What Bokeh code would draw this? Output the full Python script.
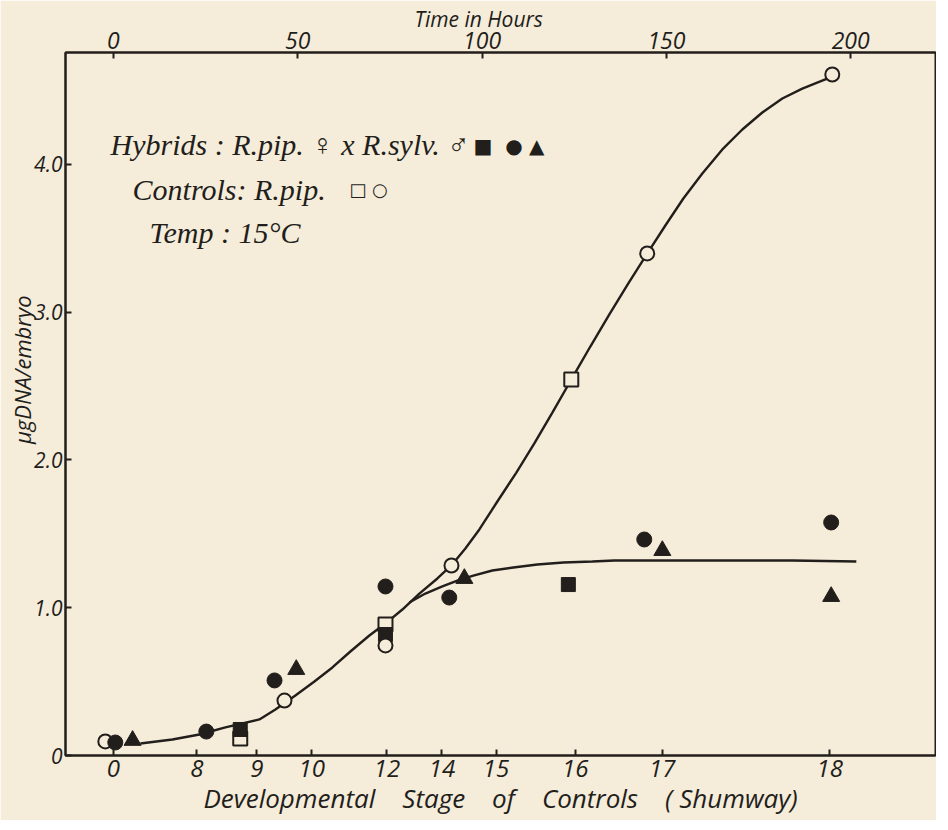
from bokeh.plotting import figure
from bokeh.models import Range1d, LinearAxis, FixedTicker, Label
from bokeh.embed import file_html
from bokeh.resources import INLINE

INK = "#221E1B"
BG = "#F6ECDA"
SANS = "Open Sans"
SERIF = "Liberation Serif"
NB = "\u00a0"

# ---- axes data -------------------------------------------------------
hour_ticks = [0, 50, 100, 150, 200]
stage_hours = [0, 22.6, 38.9, 53.8, 74.2, 89.1, 103.8, 125.3, 148.9, 194.3]
stage_labels = ["0", "8", "9", "10", "12", "14", "15", "16", "17", "18"]
dna_ticks = [0, 1, 2, 3, 4]
dna_labels = ["0", "1.0", "2.0", "3.0", "4.0"]

# ---- controls (R. pip.) ---------------------------------------------
ctrl_circle_h = [-2.2, 46.4, 73.8, 91.7, 144.8, 195.0]
ctrl_circle_dna = [0.095, 0.372, 0.745, 1.286, 3.398, 4.609]
ctrl_square_h = [34.4, 73.8, 124.2]
ctrl_square_dna = [0.115, 0.887, 2.545]

# ---- hybrids (R. pip. x R. sylv.) -----------------------------------
hyb_square_h = [34.4, 73.8, 123.4]
hyb_square_dna = [0.176, 0.819, 1.157]
hyb_circle_h = [0.5, 25.2, 43.7, 73.8, 91.1, 144.0, 194.7]
hyb_circle_dna = [0.088, 0.162, 0.508, 1.144, 1.069, 1.462, 1.577]
hyb_tri_h = [5.2, 49.6, 95.2, 148.9, 194.7]
hyb_tri_dna = [0.102, 0.582, 1.198, 1.387, 1.076]

# ---- hand-drawn curves ----------------------------------------------
ctrl_curve_h = [7.32, 16.00, 23.33, 30.38, 39.60, 43.94, 49.36, 54.52, 59.40,
                64.28, 69.43, 73.77, 78.38, 82.99, 87.88, 91.67, 95.47, 99.27,
                104.15, 109.30, 114.18, 119.07, 124.22, 129.37, 134.53, 139.68,
                144.83, 149.72, 154.60, 159.75, 165.18, 170.60, 176.02, 181.45,
                186.87, 191.75, 195.01]
ctrl_curve_dna = [0.081, 0.108, 0.142, 0.190, 0.244, 0.311, 0.406, 0.501, 0.596,
                  0.704, 0.812, 0.893, 0.988, 1.096, 1.198, 1.286, 1.401, 1.530,
                  1.719, 1.915, 2.112, 2.321, 2.545, 2.768, 2.985, 3.195,
                  3.398, 3.587, 3.770, 3.939, 4.102, 4.237, 4.352, 4.447,
                  4.514, 4.562, 4.595]
hyb_curve_h = [80.28, 84.62, 89.23, 93.30, 97.64, 102.79, 108.49, 115.00,
               122.05, 129.92, 135.88, 151.61, 163.28, 184.16, 201.52]
hyb_curve_dna = [1.036, 1.096, 1.144, 1.184, 1.218, 1.252, 1.272, 1.293,
                 1.306, 1.313, 1.320, 1.320, 1.320, 1.320, 1.313]

p = figure(width=936, height=820, output_backend="svg", toolbar_location=None,
           x_range=Range1d(-13.0, 223.0), y_range=Range1d(0, 4.758),
           min_border_left=65, min_border_right=1, min_border_top=52,
           min_border_bottom=65, x_axis_location=None)
p.background_fill_color = BG
p.border_fill_color = BG
p.outline_line_color = INK
p.outline_line_width = 2
p.xgrid.visible = False
p.ygrid.visible = False


def style_axis(ax, size):
    ax.axis_line_color = INK
    ax.axis_line_width = 2
    ax.major_tick_line_color = INK
    ax.major_tick_line_width = 2
    ax.major_tick_in = 6
    ax.major_tick_out = 0
    ax.minor_tick_line_color = None
    ax.major_label_text_font = SANS
    ax.major_label_text_font_style = "italic"
    ax.major_label_text_font_size = size
    ax.major_label_text_color = INK
    ax.axis_label_text_font = SANS
    ax.axis_label_text_font_style = "italic"
    ax.axis_label_text_color = INK


gap = " " + NB * 3
bottom = LinearAxis(ticker=FixedTicker(ticks=stage_hours),
                    major_label_overrides=dict(zip(stage_hours, stage_labels)),
                    axis_label=gap.join(["Developmental", "Stage", "of",
                                         "Controls", "( Shumway)"]))
style_axis(bottom, "24px")
bottom.axis_label_text_font_size = "26px"
bottom.major_label_standoff = 4
bottom.axis_label_standoff = 0
p.add_layout(bottom, "below")

top = LinearAxis(ticker=FixedTicker(ticks=hour_ticks),
                 axis_label="Time in Hours" + NB * 8)
style_axis(top, "23px")
top.axis_label_text_font_size = "21px"
top.major_label_standoff = 4
top.axis_label_standoff = -4
p.add_layout(top, "above")

yax = p.yaxis[0]
yax.ticker = FixedTicker(ticks=dna_ticks)
yax.major_label_overrides = dict(zip(dna_ticks, dna_labels))
style_axis(yax, "21px")
yax.major_label_standoff = 3
yax.major_label_text_baseline = "bottom"
yax.axis_label = NB * 12 + "\u00b5gDNA/embryo"
yax.axis_label_text_font_size = "22px"
yax.axis_label_standoff = -6

# curves
p.line(ctrl_curve_h, ctrl_curve_dna, line_color=INK, line_width=2.4)
p.line(hyb_curve_h, hyb_curve_dna, line_color=INK, line_width=2.4)

# markers
p.scatter(ctrl_square_h, ctrl_square_dna, marker="square", size=14,
          fill_color=BG, line_color=INK, line_width=2)
p.scatter(hyb_square_h, hyb_square_dna, marker="square", size=14,
          fill_color=INK, line_color=INK, line_width=1)
p.scatter(ctrl_circle_h, ctrl_circle_dna, marker="circle", size=14,
          fill_color=BG, line_color=INK, line_width=2)
p.scatter(hyb_circle_h, hyb_circle_dna, marker="circle", size=15,
          fill_color=INK, line_color=INK, line_width=1)
p.scatter(hyb_tri_h, hyb_tri_dna, marker="triangle", size=17,
          fill_color=INK, line_color=INK, line_width=1)

# key text
key_font = dict(text_font=SERIF, text_font_style="italic", text_color=INK,
                text_baseline="middle")
p.add_layout(Label(x=-0.8, y=4.135, text="Hybrids : R.pip. \u2640 x R.sylv. \u2642",
                   text_font_size="30px", **key_font))
p.add_layout(Label(x=97.7, y=4.122, text="\u25a0" + NB + " \u25cf" + NB + "\u25b2",
                   text_font="DejaVu Sans", text_font_size="20px",
                   text_color=INK, text_baseline="middle"))
p.add_layout(Label(x=5.2, y=3.831, text="Controls: R.pip.",
                   text_font_size="30px", **key_font))
p.add_layout(Label(x=64.0, y=3.831, text="\u25a1 \u25cb",
                   text_font="DejaVu Sans", text_font_size="18px",
                   text_color=INK, text_baseline="middle"))
p.add_layout(Label(x=9.8, y=3.540, text="Temp : 15\u00b0C",
                   text_font_size="30px", **key_font))

open("out.html", "w").write(file_html(p, INLINE))
